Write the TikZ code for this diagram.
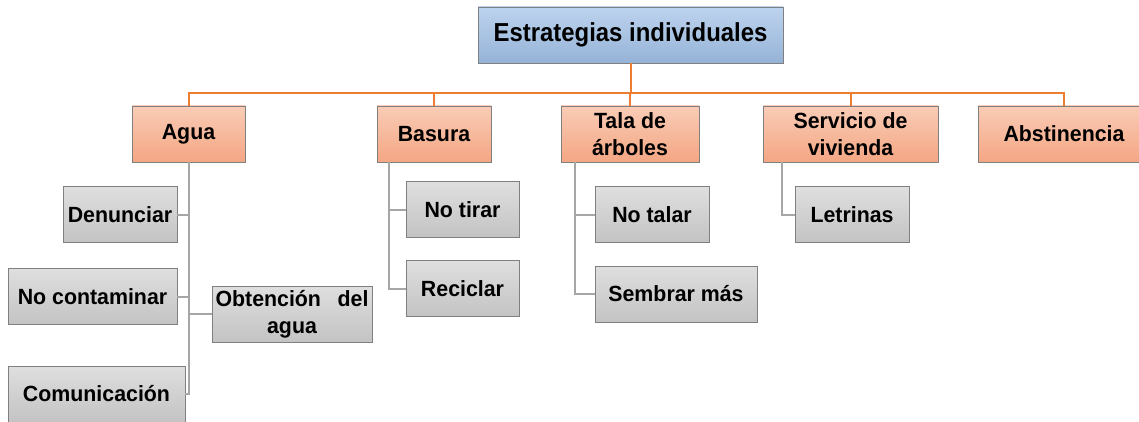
\documentclass[tikz,border=0pt]{standalone}
\usepackage{fontspec}
\setmainfont{Liberation Sans}
\definecolor{borde}{HTML}{808080}
\definecolor{azulA}{HTML}{BDD3EE}
\definecolor{azulB}{HTML}{95B3D7}
\definecolor{naranjaA}{HTML}{F9CCB6}
\definecolor{naranjaB}{HTML}{F4A683}
\definecolor{grisA}{HTML}{DFDFDF}
\definecolor{grisB}{HTML}{C3C3C3}
\definecolor{naranja}{HTML}{ED7D31}
\definecolor{gris}{HTML}{A6A6A6}

\begin{document}
\begin{tikzpicture}[x=1pt, y=-1pt,
  caja/.style={draw=borde, line width=0.8pt, inner sep=0pt, align=center,
    minimum height=56pt, font=\bfseries\fontsize{22}{27}\selectfont\addfontfeature{FakeStretch=0.97}},
  raiz/.style={caja, top color=azulA, bottom color=azulB,
    font=\bfseries\fontsize{26}{30}\selectfont\addfontfeature{FakeStretch=0.92}},
  tema/.style={caja, top color=naranjaA, bottom color=naranjaB},
  accion/.style={caja, top color=grisA, bottom color=grisB},
  lnar/.style={draw=naranja, line width=2pt},
  lgris/.style={draw=gris, line width=2pt}]
\useasboundingbox (0,0) rectangle (1139,422);

\node[raiz, minimum width=305pt] (est) at (630.5,35) {Estrategias individuales};
\node[tema, minimum width=113pt] (agua) at (188.5,134) {Agua};
\node[tema, minimum width=114pt] (basura) at (434,134) {Basura};
\node[tema, minimum width=138pt] (tala) at (630,134) {Tala de\\árboles};
\node[tema, minimum width=175pt] (vivienda) at (850.5,134) {Servicio de\\vivienda};
\node[tema, minimum width=172pt] (abst) at (1064,134) {Abstinencia};

\node[accion, minimum width=114pt] (denunciar) at (120,214.5) {Denunciar};
\node[accion, minimum width=169pt] (nocont) at (92.5,296.5) {No contaminar};
\node[accion, minimum width=160pt] (obtencion) at (292,314) {\makebox[153pt][s]{Obtención del}\\agua};
\node[accion, minimum width=177pt] (comunic) at (96.5,394) {Comunicación};
\node[accion, minimum width=113pt] (notirar) at (462.5,209.5) {No tirar};
\node[accion, minimum width=113pt] (reciclar) at (462.5,288.5) {Reciclar};
\node[accion, minimum width=114pt] (notalar) at (652,214.5) {No talar};
\node[accion, minimum width=162pt] (sembrar) at (676,294) {Sembrar más};
\node[accion, minimum width=114pt] (letrinas) at (852,214.5) {Letrinas};

\coordinate (barra) at (0,93);
\draw[lnar] (est.south) -- (est.south |- barra);
\draw[lnar] (agua.north) |- (barra -| abst.north) -- (abst.north);
\foreach \n in {basura,tala,vivienda}
  \draw[lnar] (\n.north) -- (\n.north |- barra);

\draw[lgris] (agua.south) |- (comunic.east);
\foreach \n in {denunciar,nocont}
  \draw[lgris] (\n.east) -- (\n.east -| agua.south);
\draw[lgris] (obtencion.west) -- (obtencion.west -| agua.south);
\draw[lgris] ([xshift=12pt]basura.south west) |- (notirar.west);
\draw[lgris] ([xshift=12pt]basura.south west) |- (reciclar.west);
\draw[lgris] ([xshift=14pt]tala.south west) |- (notalar.west);
\draw[lgris] ([xshift=14pt]tala.south west) |- (sembrar.west);
\draw[lgris] ([xshift=19pt]vivienda.south west) |- (letrinas.west);
\end{tikzpicture}
\end{document}
